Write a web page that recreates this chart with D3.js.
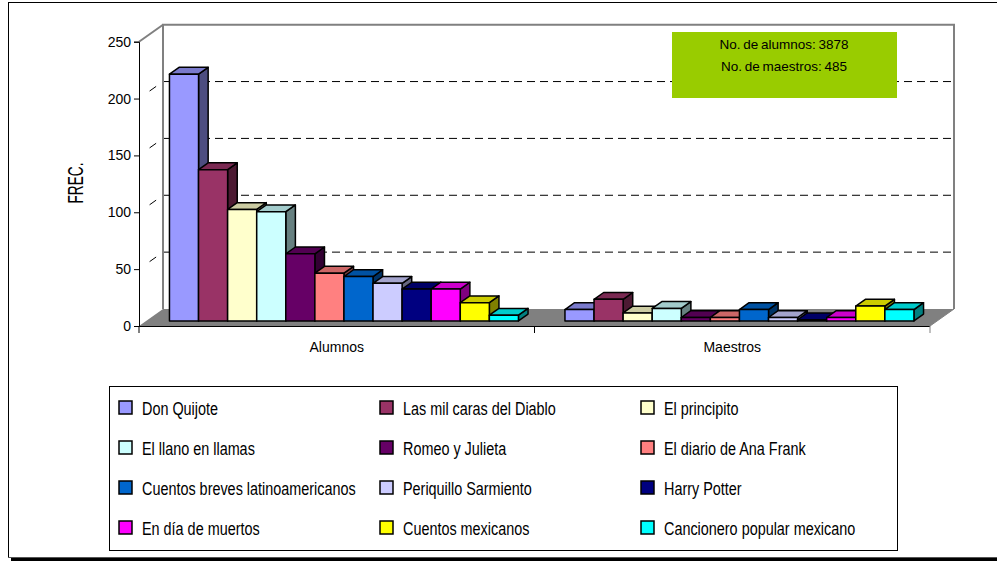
<!DOCTYPE html>
<html>
<head>
<meta charset="utf-8">
<script src="https://cdn.jsdelivr.net/npm/d3@7"></script>
<style>
  body { margin: 0; background: #fff; }
  svg { display: block; }
</style>
</head>
<body>
<svg id="chart" width="997" height="562"></svg>
<script>
// categories and series
var groups = ["Alumnos", "Maestros"]
var books = ["Don Quijote", "Las mil caras del Diablo", "El principito",
             "El llano en llamas", "Romeo y Julieta", "El diario de Ana Frank",
             "Cuentos breves latinoamericanos", "Periquillo Sarmiento", "Harry Potter",
             "En día de muertos", "Cuentos mexicanos", "Cancionero popular mexicano"]
var alumnos = [217, 133, 98, 96, 59, 42, 39, 33, 28, 28, 16, 5]
var maestros = [10, 19, 7, 11, 3, 3, 10, 3, 1, 3, 13, 10]
var yTicks = [0, 50, 100, 150, 200, 250]
var notes = ["No. de alumnos: 3878", "No. de maestros: 485"]

var colors = ["#9999FF", "#993366", "#FFFFCC", "#CCFFFF", "#660066", "#FF8080",
              "#0066CC", "#CCCCFF", "#000080", "#FF00FF", "#FFFF00", "#00FFFF"]

var dimensions = {
    width: 997,
    height: 562,
    margin: { top: 41.7, bottom: 236, left: 139, right: 67 }
}
// 3d depth of the walls, and where the bars sit inside it
var depth = { dx: 24, dy: -17 }
var zFront = 0.3, zBack = 0.7

var svg = d3.select("#chart")

var y = d3.scaleLinear()
          .domain([0, 250])
          .range([326, dimensions.margin.top])

var x0 = d3.scaleBand()
           .domain(groups)
           .range([dimensions.margin.left, 930])

var x1 = d3.scaleBand()
           .domain(books)
           .range([0, x0.bandwidth()])
           .paddingOuter(0.8)

function shade(c, k) {
    var r = d3.rgb(c)
    return d3.rgb(r.r * k, r.g * k, r.b * k).formatHex()
}
function pt(px, py, z) {
    return [px + z * depth.dx, py + z * depth.dy]
}

// outer frame
svg.append("line").attr("x1", 8).attr("x2", 997).attr("y1", 2.5).attr("y2", 2.5)
   .attr("stroke", "#000").attr("stroke-width", 1)
svg.append("line").attr("x1", 8.5).attr("x2", 8.5).attr("y1", 2).attr("y2", 558)
   .attr("stroke", "#000").attr("stroke-width", 1)
svg.append("line").attr("x1", 8).attr("x2", 997).attr("y1", 557.5).attr("y2", 557.5)
   .attr("stroke", "#555").attr("stroke-width", 1)
svg.append("rect").attr("x", 11).attr("y", 558).attr("width", 986).attr("height", 3)
   .attr("fill", "#000")

var x2 = 930
var x1s = dimensions.margin.left
var yTop = y(250), yBot = y(0)

// floor
svg.append("polygon")
   .attr("points", [pt(x1s, yBot, 0), pt(x2, yBot, 0), pt(x2, yBot, 1), pt(x1s, yBot, 1)].join(" "))
   .attr("fill", "#808080")

// gridlines on back wall and side wall
var grid = svg.append("g")
yTicks.filter(d => d > 0 && d < 250).forEach(function(v) {
    var a = pt(x1s, y(v), 1), b = pt(x2, y(v), 1)
    grid.append("line")
        .attr("x1", a[0]).attr("y1", a[1]).attr("x2", b[0]).attr("y2", b[1])
        .attr("stroke", "#000").attr("stroke-dasharray", "8,5")
    var f = pt(x1s, y(v), 0)
    grid.append("line")
        .attr("x1", f[0]).attr("y1", f[1]).attr("x2", a[0]).attr("y2", a[1])
        .attr("stroke", "#000").attr("stroke-dasharray", "0,13,8,20")
})

// wall edges
var wall = [pt(x1s, yBot, 1), pt(x1s, yTop, 1), pt(x2, yTop, 1), pt(x2, yBot, 1)]
svg.append("polyline")
   .attr("points", wall.join(" "))
   .attr("fill", "none").attr("stroke", "#808080").attr("stroke-width", 2)
svg.append("line")
   .attr("x1", x1s).attr("y1", yTop).attr("x2", wall[1][0]).attr("y2", wall[1][1])
   .attr("stroke", "#808080").attr("stroke-width", 2)
svg.append("line")
   .attr("x1", x2).attr("y1", yBot).attr("x2", wall[3][0]).attr("y2", wall[3][1])
   .attr("stroke", "#808080").attr("stroke-width", 1)

// bars
var bars = svg.append("g")
groups.forEach(function(g, gi) {
    var vals = gi == 0 ? alumnos : maestros
    books.forEach(function(b, i) {
        var xl = x0(g) + x1(b), xr = xl + x1.bandwidth()
        var yt = y(vals[i]), yb = y(0)
        var front = [pt(xl, yb, zFront), pt(xl, yt, zFront), pt(xr, yt, zFront), pt(xr, yb, zFront)]
        var top = [pt(xl, yt, zFront), pt(xl, yt, zBack), pt(xr, yt, zBack), pt(xr, yt, zFront)]
        var side = [pt(xr, yb, zFront), pt(xr, yt, zFront), pt(xr, yt, zBack), pt(xr, yb, zBack)]
        bars.append("polygon").attr("points", side.join(" "))
            .attr("fill", shade(colors[i], 0.5)).attr("stroke", "#000").attr("stroke-width", 1.5)
            .attr("stroke-linejoin", "round")
        bars.append("polygon").attr("points", top.join(" "))
            .attr("fill", shade(colors[i], 0.8)).attr("stroke", "#000").attr("stroke-width", 1.5)
            .attr("stroke-linejoin", "round")
        bars.append("polygon").attr("points", front.join(" "))
            .attr("fill", colors[i]).attr("stroke", "#000").attr("stroke-width", 1.5)
            .attr("stroke-linejoin", "round")
    })
})

// value axis
var yAxis = d3.axisLeft(y).tickValues(yTicks).tickSize(5).tickPadding(3)
var yAxisG = svg.append("g")
                .attr("transform", `translate(${x1s},0)`)
                .call(yAxis)
yAxisG.select(".domain").attr("stroke", "#000")
yAxisG.selectAll("text")
      .style("font-family", "'Liberation Sans', Arial, sans-serif")
      .style("font-size", "14px")
      .attr("fill", "#000")

// category axis
svg.append("line")
   .attr("x1", x1s).attr("x2", x2).attr("y1", yBot + 0.5).attr("y2", yBot + 0.5)
   .attr("stroke", "#000")
var catTicks = [x0.range()[0]].concat(groups.map(g => x0(g) + x0.bandwidth()))
catTicks.forEach(function(t, i) {
    svg.append("line")
       .attr("x1", t).attr("x2", t).attr("y1", yBot).attr("y2", yBot + 7)
       .attr("stroke", i == catTicks.length - 1 ? "#808080" : "#000")
})
svg.append("g").selectAll("text")
   .data(groups)
   .enter()
   .append("text")
   .attr("x", d => x0(d) + x0.bandwidth() / 2)
   .attr("y", 352)
   .attr("text-anchor", "middle")
   .style("font-family", "'Liberation Sans', Arial, sans-serif")
   .style("font-size", "14px")
   .text(d => d)

// y title
svg.append("text")
   .attr("transform", "translate(83,183) rotate(-90) scale(0.62,1)")
   .attr("text-anchor", "middle")
   .style("font-family", "'Liberation Sans', Arial, sans-serif")
   .style("font-size", "22px")
   .text("FREC.")

// info box
svg.append("rect")
   .attr("x", 672).attr("y", 32).attr("width", 225).attr("height", 66)
   .attr("fill", "#99CC00")
svg.append("g").selectAll("text")
   .data(notes)
   .enter()
   .append("text")
   .attr("x", 784)
   .attr("y", (d, i) => 49 + i * 22)
   .attr("text-anchor", "middle")
   .style("font-family", "'Liberation Sans', Arial, sans-serif")
   .style("font-size", "13.5px")
   .style("word-spacing", "-1px")
   .text(d => d)

// legend
var legend = svg.append("g")
legend.append("rect")
      .attr("x", 109.5).attr("y", 386.5).attr("width", 788).attr("height", 164)
      .attr("fill", "#fff").attr("stroke", "#000")
var colX = [119, 380, 641]
var items = legend.selectAll(".item")
                  .data(books)
                  .enter()
                  .append("g")
                  .attr("class", "item")
                  .attr("transform", (d, i) => `translate(${colX[i % 3]},${408 + Math.floor(i / 3) * 40})`)
items.append("rect")
     .attr("x", 0).attr("y", -7).attr("width", 13).attr("height", 13)
     .attr("fill", (d, i) => colors[i])
     .attr("stroke", "#000").attr("stroke-width", 1.5)
items.append("text")
     .attr("transform", "translate(23,7) scale(0.8,1.05)")
     .style("font-family", "'Liberation Sans', Arial, sans-serif")
     .style("font-size", "18px")
     .text(d => d)
</script>
</body>
</html>
